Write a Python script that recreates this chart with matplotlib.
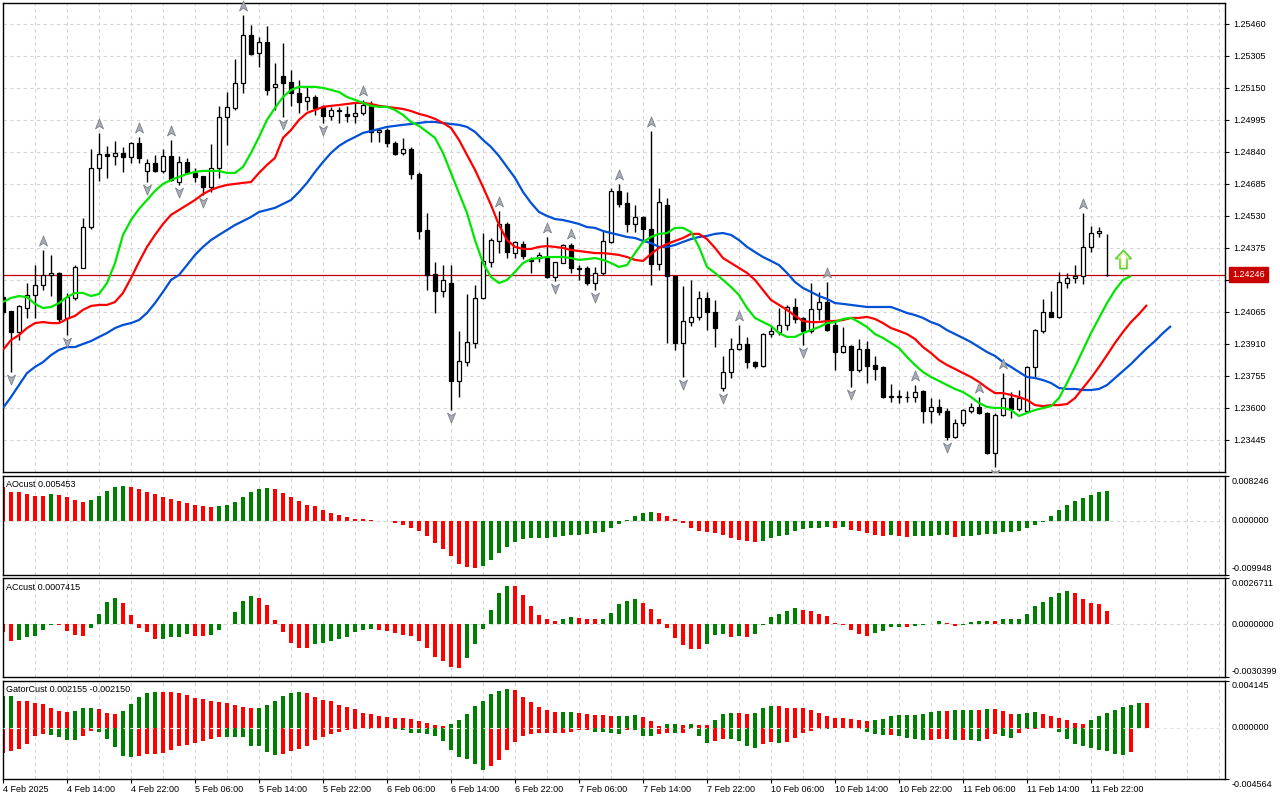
import numpy as np
import matplotlib
matplotlib.use("Agg")
import matplotlib.pyplot as plt
from matplotlib.path import Path
import matplotlib.transforms as mtransforms

plt.rcParams['font.family'] = ['Liberation Sans', 'DejaVu Sans']
FS = 6.5

# ---------------- DATA (H1 bars, 4 Feb 06:00 -> 12 Feb 00:00) ----------------
opens = [1.24137, 1.24070, 1.23968, 1.24084, 1.24147, 1.24196, 1.24244, 1.24254, 1.24036, 1.24133,
         1.24278, 1.24476, 1.24762, 1.24830, 1.24820, 1.24835, 1.24816, 1.24883, 1.24748, 1.24787,
         1.24748, 1.24820, 1.24694, 1.24791, 1.24738, 1.24723, 1.24670, 1.24762, 1.25009, 1.25053,
         1.25174, 1.25406, 1.25319, 1.25373, 1.25155, 1.25208, 1.25179, 1.25126, 1.25087, 1.25106,
         1.25058, 1.25014, 1.25043, 1.25024, 1.25014, 1.25029, 1.25063, 1.24937, 1.24946, 1.24883,
         1.24835, 1.24854, 1.24733, 1.24462, 1.24249, 1.24166, 1.24205, 1.23731, 1.23822, 1.23915,
         1.24133, 1.24307, 1.24409, 1.24491, 1.24350, 1.24394, 1.24317, 1.24326, 1.24331, 1.24234,
         1.24302, 1.24389, 1.24278, 1.24278, 1.24205, 1.24254, 1.24404, 1.24651, 1.24593, 1.24491,
         1.24525, 1.24467, 1.24297, 1.24583, 1.24239, 1.23915, 1.24016, 1.24041, 1.24133, 1.24065,
         1.23697, 1.23774, 1.23886, 1.23910, 1.23822, 1.23804, 1.23958, 1.23968, 1.24002, 1.24089,
         1.24036, 1.23973, 1.24079, 1.24113, 1.24002, 1.23871, 1.23900, 1.23784, 1.23886, 1.23808,
         1.23799, 1.23653, 1.23653, 1.23653, 1.23653, 1.23682, 1.23585, 1.23605, 1.23585, 1.23459,
         1.23527, 1.23585, 1.23605, 1.23576, 1.23382, 1.23566, 1.23648, 1.23595, 1.23585, 1.23799,
         1.23973, 1.24065, 1.24041, 1.24205, 1.24229, 1.24239, 1.24380, 1.24447, 1.24244]
highs = [1.24147, 1.24072, 1.24099, 1.24205, 1.24292, 1.24365, 1.24341, 1.24259, 1.24157, 1.24292,
         1.24520, 1.24854, 1.24932, 1.24869, 1.24893, 1.24864, 1.24888, 1.24912, 1.24806, 1.24825,
         1.24854, 1.24898, 1.24820, 1.24811, 1.24762, 1.24725, 1.24879, 1.25063, 1.25130, 1.25290,
         1.25503, 1.25455, 1.25397, 1.25450, 1.25271, 1.25368, 1.25237, 1.25189, 1.25159, 1.25116,
         1.25067, 1.25058, 1.25058, 1.25063, 1.25077, 1.25092, 1.25087, 1.24956, 1.24956, 1.24893,
         1.24908, 1.24864, 1.24743, 1.24544, 1.24307, 1.24292, 1.24292, 1.23973, 1.24152, 1.24196,
         1.24447, 1.24423, 1.24554, 1.24501, 1.24409, 1.24409, 1.24331, 1.24355, 1.24428, 1.24297,
         1.24394, 1.24399, 1.24292, 1.24288, 1.24283, 1.24462, 1.24665, 1.24685, 1.24646, 1.24583,
         1.24530, 1.24941, 1.24665, 1.24617, 1.24241, 1.24191, 1.24220, 1.24166, 1.24162, 1.24123,
         1.23852, 1.23939, 1.24002, 1.23944, 1.23827, 1.23963, 1.23997, 1.24084, 1.24099, 1.24133,
         1.24041, 1.24205, 1.24162, 1.24210, 1.24016, 1.23992, 1.23905, 1.23934, 1.23924, 1.23852,
         1.23804, 1.23716, 1.23687, 1.23682, 1.23711, 1.23687, 1.23648, 1.23643, 1.23600, 1.23546,
         1.23595, 1.23624, 1.23653, 1.23580, 1.23578, 1.23769, 1.23677, 1.23687, 1.23804, 1.23982,
         1.24128, 1.24166, 1.24259, 1.24254, 1.24292, 1.24544, 1.24481, 1.24476, 1.24443]
lows = [1.24050, 1.23774, 1.23929, 1.24036, 1.24036, 1.24171, 1.24142, 1.24016, 1.23953, 1.24123,
        1.24276, 1.24467, 1.24699, 1.24714, 1.24777, 1.24743, 1.24787, 1.24787, 1.24694, 1.24743,
        1.24738, 1.24699, 1.24680, 1.24735, 1.24694, 1.24631, 1.24646, 1.24714, 1.24874, 1.25043,
        1.25126, 1.25310, 1.25252, 1.25116, 1.25043, 1.25009, 1.25063, 1.25029, 1.25043, 1.25019,
        1.24980, 1.24995, 1.24980, 1.24985, 1.24980, 1.25019, 1.24888, 1.24888, 1.24864, 1.24825,
        1.24825, 1.24709, 1.24418, 1.24171, 1.24060, 1.24137, 1.23590, 1.23653, 1.23804, 1.23890,
        1.24130, 1.24283, 1.24350, 1.24326, 1.24326, 1.24321, 1.24254, 1.24307, 1.24229, 1.24215,
        1.24300, 1.24254, 1.24220, 1.24196, 1.24171, 1.24244, 1.24399, 1.24573, 1.24452, 1.24452,
        1.24413, 1.24196, 1.24268, 1.23915, 1.23881, 1.23750, 1.23997, 1.24026, 1.23977, 1.23895,
        1.23682, 1.23745, 1.23881, 1.23794, 1.23794, 1.23799, 1.23944, 1.23953, 1.23977, 1.24011,
        1.23905, 1.23963, 1.24026, 1.23973, 1.23784, 1.23866, 1.23701, 1.23774, 1.23721, 1.23735,
        1.23648, 1.23629, 1.23624, 1.23629, 1.23629, 1.23527, 1.23527, 1.23566, 1.23445, 1.23454,
        1.23512, 1.23576, 1.23573, 1.23377, 1.23314, 1.23561, 1.23551, 1.23585, 1.23583, 1.23750,
        1.23963, 1.24039, 1.24036, 1.24181, 1.24205, 1.24200, 1.24355, 1.24428, 1.24239]
closes = [1.24065, 1.23968, 1.24094, 1.24147, 1.24196, 1.24244, 1.24254, 1.24031, 1.24137, 1.24283,
          1.24476, 1.24762, 1.24830, 1.24820, 1.24835, 1.24816, 1.24883, 1.24811, 1.24787, 1.24748,
          1.24820, 1.24704, 1.24791, 1.24738, 1.24719, 1.24670, 1.24762, 1.25009, 1.25058, 1.25174,
          1.25406, 1.25314, 1.25373, 1.25140, 1.25169, 1.25174, 1.25126, 1.25082, 1.25106, 1.25053,
          1.25014, 1.25043, 1.25038, 1.25014, 1.25029, 1.25067, 1.24937, 1.24946, 1.24883, 1.24830,
          1.24854, 1.24733, 1.24457, 1.24244, 1.24166, 1.24220, 1.23731, 1.23827, 1.23919, 1.24133,
          1.24312, 1.24413, 1.24491, 1.24355, 1.24404, 1.24336, 1.24312, 1.24341, 1.24234, 1.24307,
          1.24389, 1.24278, 1.24273, 1.24205, 1.24254, 1.24409, 1.24651, 1.24588, 1.24491, 1.24525,
          1.24467, 1.24297, 1.24598, 1.24239, 1.23915, 1.24021, 1.24041, 1.24133, 1.24065, 1.23987,
          1.23774, 1.23886, 1.23910, 1.23822, 1.23804, 1.23958, 1.23973, 1.24002, 1.24089, 1.24031,
          1.23973, 1.24079, 1.24113, 1.23977, 1.23871, 1.23900, 1.23784, 1.23886, 1.23804, 1.23789,
          1.23653, 1.23658, 1.23657, 1.23655, 1.23677, 1.23585, 1.23605, 1.23580, 1.23459, 1.23527,
          1.23590, 1.23605, 1.23576, 1.23382, 1.23566, 1.23648, 1.23595, 1.23648, 1.23799, 1.23977,
          1.24065, 1.24041, 1.24210, 1.24229, 1.24239, 1.24380, 1.24447, 1.24457, 1.24246]

# Alligator (already shifted as displayed): jaw +8, teeth +5, lips +3
jaw = [1.23600, 1.23653, 1.23711, 1.23769, 1.23799, 1.23822, 1.23856, 1.23881, 1.23895, 1.23895,
       1.23910, 1.23924, 1.23944, 1.23963, 1.23987, 1.24002, 1.24011, 1.24026, 1.24060, 1.24108,
       1.24162, 1.24220, 1.24244, 1.24292, 1.24341, 1.24380, 1.24413, 1.24438, 1.24462, 1.24486,
       1.24505, 1.24525, 1.24549, 1.24559, 1.24569, 1.24588, 1.24607, 1.24646, 1.24690, 1.24743,
       1.24791, 1.24835, 1.24869, 1.24893, 1.24912, 1.24932, 1.24941, 1.24951, 1.24961, 1.24966,
       1.24971, 1.24975, 1.24980, 1.24985, 1.24985, 1.24980, 1.24975, 1.24971, 1.24961, 1.24937,
       1.24898, 1.24864, 1.24820, 1.24767, 1.24714, 1.24646, 1.24593, 1.24549, 1.24530, 1.24515,
       1.24510, 1.24501, 1.24491, 1.24476, 1.24472, 1.24457, 1.24447, 1.24438, 1.24428, 1.24423,
       1.24409, 1.24399, 1.24380, 1.24380, 1.24389, 1.24404, 1.24418, 1.24428, 1.24433, 1.24443,
       1.24447, 1.24438, 1.24413, 1.24380, 1.24355, 1.24331, 1.24312, 1.24292, 1.24254, 1.24210,
       1.24181, 1.24162, 1.24142, 1.24128, 1.24108, 1.24104, 1.24099, 1.24094, 1.24089, 1.24089,
       1.24089, 1.24089, 1.24075, 1.24060, 1.24050, 1.24036, 1.24016, 1.24002, 1.23977, 1.23958,
       1.23939, 1.23919, 1.23895, 1.23871, 1.23852, 1.23822, 1.23799, 1.23774, 1.23750, 1.23745,
       1.23735, 1.23721, 1.23697, 1.23692, 1.23692, 1.23687, 1.23687, 1.23692, 1.23711, 1.23745,
       1.23779, 1.23813, 1.23852, 1.23890, 1.23924, 1.23963, 1.23997]
teeth = [1.23881, 1.23929, 1.23953, 1.23987, 1.24011, 1.24016, 1.24011, 1.24011, 1.24031, 1.24046,
         1.24075, 1.24094, 1.24099, 1.24099, 1.24113, 1.24157, 1.24229, 1.24307, 1.24380, 1.24438,
         1.24491, 1.24535, 1.24559, 1.24583, 1.24607, 1.24636, 1.24656, 1.24670, 1.24680, 1.24685,
         1.24690, 1.24694, 1.24738, 1.24777, 1.24811, 1.24908, 1.24946, 1.24995, 1.25029, 1.25043,
         1.25058, 1.25063, 1.25067, 1.25072, 1.25077, 1.25077, 1.25072, 1.25063, 1.25058, 1.25053,
         1.25048, 1.25038, 1.25024, 1.25014, 1.25000, 1.24980, 1.24956, 1.24898, 1.24825, 1.24753,
         1.24670, 1.24583, 1.24486, 1.24413, 1.24380, 1.24370, 1.24370, 1.24380, 1.24384, 1.24380,
         1.24375, 1.24365, 1.24360, 1.24355, 1.24350, 1.24350, 1.24346, 1.24341, 1.24331, 1.24317,
         1.24312, 1.24346, 1.24375, 1.24394, 1.24409, 1.24423, 1.24443, 1.24443, 1.24418, 1.24375,
         1.24326, 1.24302, 1.24278, 1.24254, 1.24220, 1.24171, 1.24123, 1.24099, 1.24075, 1.24046,
         1.24021, 1.24016, 1.24016, 1.24021, 1.24021, 1.24026, 1.24036, 1.24036, 1.24041, 1.24031,
         1.24011, 1.23987, 1.23973, 1.23958, 1.23934, 1.23895, 1.23866, 1.23832, 1.23808, 1.23789,
         1.23769, 1.23750, 1.23726, 1.23697, 1.23672, 1.23672, 1.23663, 1.23653, 1.23639, 1.23614,
         1.23609, 1.23614, 1.23614, 1.23619, 1.23648, 1.23697, 1.23745, 1.23799, 1.23856, 1.23915,
         1.23968, 1.24016, 1.24055, 1.24099]
lips = [1.24113, 1.24133, 1.24142, 1.24137, 1.24104, 1.24084, 1.24089, 1.24108, 1.24137, 1.24157,
        1.24157, 1.24142, 1.24152, 1.24205, 1.24302, 1.24438, 1.24510, 1.24564, 1.24607, 1.24651,
        1.24685, 1.24704, 1.24719, 1.24733, 1.24743, 1.24748, 1.24748, 1.24748, 1.24738, 1.24738,
        1.24767, 1.24835, 1.24912, 1.24995, 1.25053, 1.25106, 1.25140, 1.25155, 1.25155, 1.25155,
        1.25150, 1.25140, 1.25130, 1.25106, 1.25092, 1.25077, 1.25063, 1.25058, 1.25058, 1.25043,
        1.25019, 1.24985, 1.24966, 1.24937, 1.24908, 1.24835, 1.24738, 1.24641, 1.24544, 1.24413,
        1.24302, 1.24234, 1.24205, 1.24220, 1.24259, 1.24302, 1.24321, 1.24326, 1.24331, 1.24331,
        1.24331, 1.24326, 1.24317, 1.24321, 1.24326, 1.24317, 1.24302, 1.24283, 1.24292, 1.24350,
        1.24404, 1.24428, 1.24443, 1.24447, 1.24472, 1.24472, 1.24452, 1.24380, 1.24283, 1.24254,
        1.24220, 1.24186, 1.24147, 1.24084, 1.24036, 1.24016, 1.23997, 1.23963, 1.23944, 1.23944,
        1.23963, 1.23977, 1.23992, 1.24011, 1.24016, 1.24031, 1.24036, 1.24016, 1.23992, 1.23958,
        1.23939, 1.23915, 1.23890, 1.23847, 1.23808, 1.23774, 1.23750, 1.23731, 1.23711, 1.23692,
        1.23677, 1.23653, 1.23624, 1.23605, 1.23600, 1.23600, 1.23590, 1.23561, 1.23576, 1.23590,
        1.23600, 1.23609, 1.23648, 1.23721, 1.23799, 1.23881, 1.23963, 1.24036, 1.24108, 1.24171,
        1.24220, 1.24239]

fractal_up_bars = [5, 12, 17, 21, 30, 45, 62, 68, 71, 77, 81, 92, 103, 114, 122, 125, 135]
fractal_down_bars = [1, 8, 18, 22, 25, 35, 40, 56, 69, 74, 85, 90, 100, 106, 118, 124]
signal_bar = 140
signal_price = 1.24320
last_price = 1.24246

# Oscillators, in units of 1e-4
ao_e4 = [63.0, 53.7, 53.6, 50.0, 46.4, 46.3, 50.0, 48.2, 44.6, 39.1,
         35.5, 39.1, 46.4, 55.5, 63.0, 64.8, 63.0, 59.3, 53.7, 50.0,
         44.6, 41.0, 37.3, 33.7, 29.8, 28.0, 26.2, 28.0, 29.8, 35.5,
         44.6, 53.7, 59.3, 61.2, 59.3, 51.9, 44.6, 37.3, 29.8, 28.0,
         20.7, 15.3, 11.6, 8.0, 4.2, 4.0, 2.4, 0.5, -0.5, -3.1,
         -7.3, -12.2, -19.5, -27.5, -41.0, -51.9, -65.3, -79.4, -85.5, -86.0,
         -83.7, -72.8, -59.3, -48.8, -39.7, -33.7, -31.7, -31.5, -30.6, -29.8,
         -27.5, -25.7, -25.5, -23.3, -22.6, -20.2, -13.5, -6.2, 0.9, 9.1,
         15.1, 16.9, 15.1, 9.1, 4.2, -3.1, -12.2, -18.2, -21.3, -21.8,
         -25.5, -30.9, -34.6, -37.7, -39.5, -36.4, -32.2, -28.6, -25.5, -19.5,
         -15.1, -13.3, -12.2, -10.4, -12.2, -11.5, -16.4, -19.5, -23.1, -25.5,
         -27.3, -26.8, -27.3, -29.1, -28.6, -27.8, -27.3, -26.8, -26.0, -29.1,
         -28.6, -27.3, -25.5, -24.9, -24.2, -21.3, -20.6, -19.5, -14.0, -7.3,
         -1.3, 9.1, 20.0, 29.1, 36.4, 41.9, 47.3, 52.8, 54.53]
ac_e4 = [-4.40, -9.59, -9.19, -7.31, -6.68, -3.43, -0.17, -0.57, -3.83, -6.34,
         -6.68, -2.11, 5.77, 12.62, 14.96, 12.05, 5.20, -1.94, -4.40, -8.62,
         -8.45, -7.31, -7.20, -5.77, -6.51, -6.68, -6.34, -3.43, 0.40, 6.91,
         13.25, 16.10, 14.96, 10.91, 2.68, -4.40, -10.74, -13.59, -13.65, -11.48,
         -10.74, -9.59, -8.45, -7.31, -4.40, -3.08, -2.51, -3.08, -3.83, -4.97,
         -6.34, -6.91, -9.59, -13.59, -18.79, -21.07, -24.56, -25.13, -19.36, -11.48,
         -2.51, 8.05, 18.22, 22.04, 21.93, 16.68, 10.34, 5.20, 3.08, 1.71,
         2.86, 4.00, 3.66, 3.08, 2.97, 3.20, 6.34, 11.48, 13.71, 14.68,
         12.56, 8.57, 2.86, -2.11, -7.82, -11.99, -14.11, -14.16, -11.42, -6.28,
         -5.71, -7.42, -6.85, -7.42, -5.71, -0.40, 4.00, 5.71, 7.42, 9.14,
         8.00, 7.42, 5.71, 4.57, 0.57, -0.17, -3.43, -5.71, -6.85, -4.97,
         -3.83, -1.54, -1.48, -1.54, -0.97, -0.17, 0.40, 1.71, 0.57, -0.97,
         -0.17, 1.14, 2.11, 2.17, 1.71, 2.86, 2.91, 2.97, 5.71, 10.28,
         13.14, 15.99, 18.28, 19.42, 17.88, 14.85, 12.56, 11.59, 7.415]
gator_up_e4 = [28.39, 28.48, 23.95, 23.34, 21.95, 21.08, 17.25, 14.63, 13.76, 15.16,
               17.25, 17.33, 16.37, 13.41, 12.54, 15.16, 21.34, 27.18, 30.40, 31.88,
               31.79, 31.27, 31.01, 29.27, 26.30, 25.17, 23.95, 23.08, 21.95, 20.47,
               17.94, 17.33, 17.59, 20.47, 23.95, 28.05, 31.01, 31.88, 30.40, 27.18,
               24.56, 23.34, 20.47, 18.12, 16.37, 12.89, 12.28, 10.54, 9.32, 8.80,
               8.71, 7.93, 5.84, 4.09, 2.00, 1.13, 2.96, 6.45, 12.28, 19.60,
               23.34, 29.79, 32.75, 34.23, 33.62, 27.44, 22.82, 18.12, 15.77, 13.59,
               13.76, 14.28, 13.15, 12.28, 11.41, 11.32, 10.45, 10.63, 10.71, 11.58,
               9.84, 5.49, 1.13, 2.87, 2.96, 2.00, 2.87, 2.00, 1.92, 6.97,
               12.46, 13.33, 13.24, 12.46, 13.33, 17.68, 19.42, 19.34, 17.68, 17.59,
               17.51, 15.94, 13.33, 10.71, 8.97, 8.88, 8.10, 7.23, 5.49, 7.23,
               8.10, 10.71, 10.80, 11.58, 11.67, 12.46, 14.20, 15.07, 14.98, 15.94,
               16.03, 16.11, 16.03, 16.81, 16.72, 15.07, 12.19, 12.37, 13.07, 13.59,
               12.46, 10.71, 8.97, 7.23, 3.75, 3.66, 7.23, 10.71, 13.33, 15.50,
               18.55, 19.86, 22.30, 21.55]
gator_dn_e4 = [-22.82, -20.47, -18.73, -14.63, -7.32, -5.23, -6.71, -8.19, -10.54, -10.63,
               -7.32, -2.96, -3.83, -9.67, -16.98, -24.82, -25.69, -25.61, -23.34, -23.26,
               -22.21, -19.86, -16.11, -15.16, -13.41, -12.02, -9.93, -8.19, -8.27, -8.36,
               -8.71, -16.37, -16.55, -21.34, -24.30, -23.34, -20.73, -19.25, -16.37, -10.54,
               -8.19, -5.23, -3.83, -1.74, -1.31, -0.70, -0.87, -0.52, -0.35, -0.87,
               -1.74, -4.70, -4.79, -5.23, -7.32, -11.67, -19.86, -26.30, -27.44, -32.14,
               -37.45, -34.49, -28.66, -19.86, -12.54, -7.32, -5.23, -4.70, -4.62, -4.53,
               -4.44, -3.83, -2.35, -2.18, -3.48, -3.57, -4.36, -5.84, -1.74, -2.35,
               -7.23, -7.32, -5.49, -4.62, -4.70, -4.62, -0.87, -7.23, -13.33, -11.58,
               -10.19, -10.28, -11.58, -15.94, -17.68, -14.20, -12.46, -13.33, -12.46, -9.32,
               -4.62, -2.87, -0.87, -1.48, -0.26, -0.52, -0.26, -0.87, -3.75, -5.49,
               -6.36, -6.27, -7.23, -9.32, -9.84, -11.06, -10.97, -9.84, -9.76, -11.06,
               -10.97, -11.06, -11.93, -9.84, -5.49, -7.58, -9.32, -4.62, -0.87, -0.78,
               -0.70, -0.44, -3.75, -10.19, -14.20, -15.94, -17.68, -19.77, -21.17, -23.26,
               -24.13, -21.50]

price_levels = [1.25460, 1.25305, 1.25150, 1.24995, 1.24840, 1.24685, 1.24530, 1.24375,
                1.24220, 1.24065, 1.23910, 1.23755, 1.23600, 1.23445]
x_tick_bars = list(range(0, 137, 8))
x_tick_labels = ["4 Feb 2025", "4 Feb 14:00", "4 Feb 22:00", "5 Feb 06:00", "5 Feb 14:00",
                 "5 Feb 22:00", "6 Feb 06:00", "6 Feb 14:00", "6 Feb 22:00", "7 Feb 06:00",
                 "7 Feb 14:00", "7 Feb 22:00", "10 Feb 06:00", "10 Feb 14:00", "10 Feb 22:00",
                 "11 Feb 06:00", "11 Feb 14:00", "11 Feb 22:00"]
ao_range = (-0.009948, 0.008246)
ac_range = (-0.0030399, 0.0026711)
gator_range = (-0.004564, 0.004145)
main_range = (1.23290, 1.25561)

# ---------------- STYLE ----------------
GREEN = '#008000'
RED = '#ff0000'
GRID = '#d4d4d4'
XLIM = (0.0, 152.75)

fig = plt.figure(figsize=(12.8, 8), dpi=100)
fig.patch.set_facecolor('white')


def px_axes(top, bottom):
    return fig.add_axes([3 / 1280, (800 - bottom) / 800, 1222 / 1280, (bottom - top) / 800])


ax_main = px_axes(3, 472)
ax_ao = px_axes(476, 575)
ax_ac = px_axes(578, 677)
ax_gt = px_axes(681, 779)
axes = [ax_main, ax_ao, ax_ac, ax_gt]

for ax in axes:
    ax.set_xlim(*XLIM)
    for s in ax.spines.values():
        s.set_color('black')
        s.set_linewidth(1.0)
    for xv in range(4, 153, 4):
        ax.axvline(xv, color=GRID, lw=0.8, ls=(0, (3, 3)), zorder=0)
    ax.tick_params(axis='x', which='both', bottom=False, labelbottom=False)
    ax.yaxis.set_ticks_position('right')

# ---------------- MAIN PANEL ----------------
o = np.array(opens)
h = np.array(highs)
l = np.array(lows)
c = np.array(closes)
x = np.arange(len(o))

ax_main.set_ylim(*main_range)
for lv in price_levels:
    ax_main.axhline(lv, color=GRID, lw=0.8, ls=(0, (3, 3)), zorder=0)

ax_main.axhline(last_price, color='#c00000', lw=0.9, zorder=1.8)

ax_main.vlines(x, l, h, color='black', lw=1.0, zorder=3)
bull = c >= o
body_bottom = np.minimum(o, c)
body_height = np.maximum(np.abs(c - o), 0.000004)
ax_main.bar(x, body_height, bottom=body_bottom, width=0.62,
            color=np.where(bull, 'white', 'black'), edgecolor='black',
            linewidth=0.9, zorder=4)

ax_main.plot(np.arange(len(jaw)), jaw, color='#0050d8', lw=1.6, zorder=5, solid_capstyle='butt')
ax_main.plot(np.arange(len(teeth)), teeth, color='#ff0000', lw=1.6, zorder=5, solid_capstyle='butt')
ax_main.plot(np.arange(len(lips)), lips, color='#00e600', lw=1.6, zorder=5, solid_capstyle='butt')

up_path = Path([(0, 1), (0.72, -0.8), (0, -0.3), (-0.72, -0.8), (0, 1)],
               [Path.MOVETO, Path.LINETO, Path.LINETO, Path.LINETO, Path.CLOSEPOLY])
dn_path = Path([(0, -1), (0.72, 0.8), (0, 0.3), (-0.72, 0.8), (0, -1)],
               [Path.MOVETO, Path.LINETO, Path.LINETO, Path.LINETO, Path.CLOSEPOLY])
tr_up = mtransforms.offset_copy(ax_main.transData, fig=fig, x=0, y=9, units='dots')
tr_dn = mtransforms.offset_copy(ax_main.transData, fig=fig, x=0, y=-7, units='dots')
ax_main.plot(fractal_up_bars, h[fractal_up_bars], ls='none', marker=up_path, ms=8,
             mfc='#a9adb5', mec='#7d8189', mew=0.6, transform=tr_up, zorder=6, clip_on=False)
ax_main.plot(fractal_down_bars, l[fractal_down_bars], ls='none', marker=dn_path, ms=8,
             mfc='#a9adb5', mec='#7d8189', mew=0.6, transform=tr_dn, zorder=6, clip_on=True)

arrow_path = Path([(0, 1), (0.85, 0.1), (0.38, 0.1), (0.38, -1), (-0.38, -1),
                   (-0.38, 0.1), (-0.85, 0.1), (0, 1)],
                  [Path.MOVETO] + [Path.LINETO] * 6 + [Path.CLOSEPOLY])
ax_main.plot([signal_bar], [signal_price], ls='none', marker=arrow_path, ms=13,
             mfc='white', mec='#5ed43a', mew=1.3, zorder=6)
ax_main.plot([signal_bar], [signal_price], ls='none', marker=arrow_path, ms=9,
             mfc='none', mec='#e6e68a', mew=0.7, zorder=6)

ax_main.set_yticks(price_levels)
ax_main.set_yticklabels([f"{v:.5f}" for v in price_levels])
ax_main.tick_params(axis='y', direction='out', length=3, width=0.8, pad=3,
                    labelsize=FS, right=True, left=False, labelright=True, labelleft=False)

ax_main.annotate(f"{last_price:.5f}", xy=(1.0, last_price),
                 xycoords=('axes fraction', 'data'), xytext=(5.5, 0),
                 textcoords='offset points', va='center', ha='left', color='white',
                 fontsize=FS, zorder=10, annotation_clip=False,
                 bbox=dict(boxstyle='square,pad=0.35', fc='#c80000', ec='#c80000'))


# ---------------- OSCILLATORS ----------------
def trend_colors(vals, first, use_abs=False):
    v = np.abs(vals) if use_abs else np.asarray(vals)
    cols = [first]
    for i in range(1, len(v)):
        cols.append(GREEN if v[i] > v[i - 1] else RED)
    return cols


ao = np.array(ao_e4) * 1e-4
ac = np.array(ac_e4) * 1e-4
g_up = np.array(gator_up_e4) * 1e-4
g_dn = np.array(gator_dn_e4) * 1e-4

ax_ao.bar(np.arange(len(ao)), ao, width=0.6, color=trend_colors(ao, RED), linewidth=0, zorder=2)
ax_ac.bar(np.arange(len(ac)), ac, width=0.6, color=trend_colors(ac, RED), linewidth=0, zorder=2)
ax_gt.bar(np.arange(len(g_up)), g_up, width=0.6, color=trend_colors(g_up, GREEN),
          linewidth=0, zorder=2)
ax_gt.bar(np.arange(len(g_dn)), g_dn, width=0.6, color=trend_colors(g_dn, RED, use_abs=True),
          linewidth=0, zorder=2)

# (axis, range, labels, title, title_y_px, top_dy, bottom_va, bottom_dy)
panel_specs = [
    (ax_ao, ao_range, ["0.008246", "0.000000", "-0.009948"], "AOcust 0.005453", 485, -1, 'bottom', 2),
    (ax_ac, ac_range, ["0.0026711", "0.0000000", "-0.0030399"], "ACcust 0.0007415", 587, -1, 'bottom', 1),
    (ax_gt, gator_range, ["0.004145", "0.000000", "-0.004564"], "GatorCust 0.002155 -0.002150", 690, 0, 'top', -1),
]
for ax, rng, labels, title, ty, tdy, bva, bdy in panel_specs:
    ax.set_ylim(*rng)
    zl = 3 if ax is ax_gt else 1
    ax.axhline(0, color=GRID if ax is not ax_gt else '#e4e4e4', lw=0.8, ls=(0, (3, 3)), zorder=zl)
    ax.set_yticks([rng[1], rng[0]])
    ax.set_yticklabels(['', ''])
    ax.tick_params(axis='y', direction='out', length=3, width=0.8, right=True, left=False,
                   labelright=False, labelleft=False)
    ytr = ax.get_yaxis_transform()
    t_top = mtransforms.offset_copy(ytr, fig=fig, x=7, y=tdy, units='dots')
    t_mid = mtransforms.offset_copy(ytr, fig=fig, x=7, y=0, units='dots')
    t_bot = mtransforms.offset_copy(ytr, fig=fig, x=7, y=bdy, units='dots')
    ax.text(1.0, rng[1], labels[0], transform=t_top, ha='left', va='top', fontsize=FS, clip_on=False)
    ax.text(1.0, 0.0, labels[1], transform=t_mid, ha='left', va='center', fontsize=FS, clip_on=False)
    ax.text(1.0, rng[0], labels[2], transform=t_bot, ha='left', va=bva, fontsize=FS, clip_on=False)
    fig.text(6 / 1280, 1 - ty / 800, title, fontsize=FS, ha='left', va='center')

ax_gt.set_xticks(x_tick_bars)
ax_gt.set_xticklabels(x_tick_labels)
ax_gt.tick_params(axis='x', bottom=True, labelbottom=True, direction='out', length=3,
                  width=0.8, pad=1.5, labelsize=FS)
for lbl in ax_gt.get_xticklabels():
    lbl.set_ha('left')

fig.savefig("out.png", dpi=100, facecolor='white')
